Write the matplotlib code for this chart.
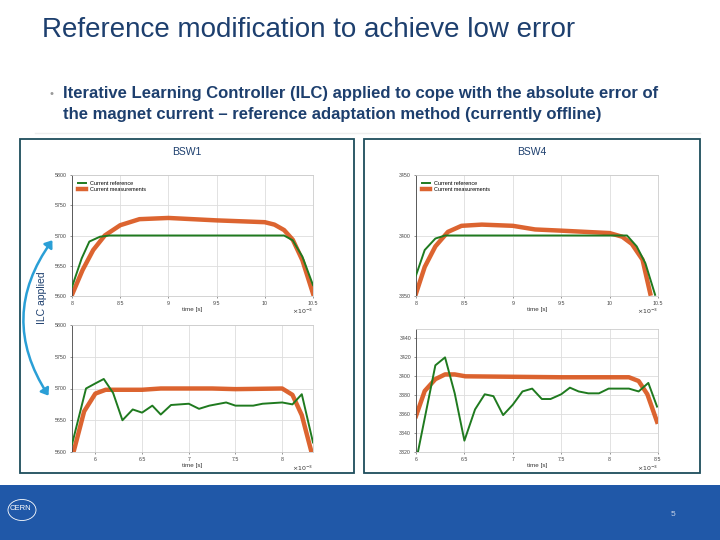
import matplotlib.pyplot as plt
from matplotlib.patches import Rectangle, FancyArrowPatch, Circle

# --- data (time in 1e-3 s, current in A) ---
bsw1_top_ref_t = [8.0, 8.1, 8.18, 8.29, 8.39, 9.0, 9.5, 10.0, 10.2, 10.29, 10.39, 10.5]
bsw1_top_ref_i = [5615, 5662, 5690, 5698, 5700, 5700, 5700, 5700, 5700, 5692, 5665, 5618]
bsw1_top_meas_t = [8.0, 8.11, 8.22, 8.34, 8.5, 8.7, 9.0, 9.5, 10.0, 10.1, 10.2, 10.29, 10.39, 10.5]
bsw1_top_meas_i = [5602, 5643, 5676, 5700, 5717, 5727, 5729, 5725, 5722, 5718, 5709, 5693, 5659, 5604]

bsw1_bot_ref_t = [5.75, 5.9, 6.0, 6.09, 6.19, 6.29, 6.4, 6.5, 6.61, 6.7, 6.81, 7.0, 7.11, 7.22,
                  7.4, 7.5, 7.69, 7.79, 8.0, 8.11, 8.21, 8.33]
bsw1_bot_ref_i = [5612, 5700, 5708, 5715, 5693, 5650, 5667, 5662, 5673, 5659, 5674, 5676, 5668, 5673,
                  5678, 5673, 5673, 5676, 5678, 5675, 5691, 5615]
bsw1_bot_meas_t = [5.77, 5.88, 6.0, 6.11, 6.25, 6.5, 6.7, 7.0, 7.25, 7.5, 8.0, 8.11, 8.21, 8.31]
bsw1_bot_meas_i = [5602, 5664, 5692, 5698, 5698, 5698, 5700, 5700, 5700, 5699, 5700, 5690, 5658, 5602]

bsw4_top_ref_t = [8.0, 8.09, 8.2, 8.3, 9.0, 9.5, 10.0, 10.18, 10.28, 10.37, 10.47]
bsw4_top_ref_i = [3367, 3388, 3397.5, 3400, 3400, 3400, 3400, 3400, 3391, 3377, 3351]
bsw4_top_meas_t = [8.0, 8.09, 8.2, 8.33, 8.47, 8.68, 9.0, 9.23, 9.5, 10.0, 10.13, 10.23, 10.34, 10.42]
bsw4_top_meas_i = [3352, 3374, 3391, 3403, 3408, 3409, 3408, 3405, 3404, 3402, 3399, 3393, 3380, 3352]

bsw4_bot_ref_t = [6.02, 6.2, 6.3, 6.4, 6.5, 6.61, 6.71, 6.8, 6.9, 7.0, 7.1, 7.2, 7.3, 7.39, 7.5,
                  7.59, 7.68, 7.78, 7.89, 7.99, 8.2, 8.3, 8.4, 8.49]
bsw4_bot_ref_i = [3320, 3411.6, 3420, 3382, 3332, 3365, 3381, 3379, 3359, 3370, 3384, 3387, 3376, 3376, 3381,
                  3388, 3384, 3382, 3382, 3387, 3387, 3384, 3393, 3368]
bsw4_bot_meas_t = [6.0, 6.09, 6.2, 6.3, 6.4, 6.51, 7.0, 7.5, 8.2, 8.3, 8.39, 8.49]
bsw4_bot_meas_i = [3358, 3384.5, 3397, 3402, 3402, 3400, 3399.5, 3399, 3399, 3395, 3381, 3352]

GREEN = "#1f7a1f"
ORANGE = "#d95319"
NAVY = "#1d3f6e"
W, H = 720, 540


def rect(x0, y0, x1, y1):
    # pixel box (top-left origin) -> figure fraction
    return [x0 / W, 1 - y1 / H, (x1 - x0) / W, (y1 - y0) / H]


fig = plt.figure(figsize=(7.2, 5.4), dpi=100)
plt.rcParams["font.family"] = ["Liberation Sans", "DejaVu Sans"]

# title + bullet
fig.text(42 / W, 1 - 30 / H, "Reference modification to achieve low error",
         fontsize=20, color=NAVY, va="center", ha="left")
fig.text(50 / W, 1 - 94 / H, "\u2022", fontsize=8, color="#999999", va="center")
fig.text(63 / W, 1 - 93 / H, "Iterative Learning Controller (ILC) applied to cope with the absolute error of",
         fontsize=12, color=NAVY, weight="bold", va="center", ha="left")
fig.text(63 / W, 1 - 114 / H, "the magnet current \u2013 reference adaptation method (currently offline)",
         fontsize=12, color=NAVY, weight="bold", va="center", ha="left")
fig.add_artist(plt.Line2D([35 / W, 700 / W], [1 - 133 / H] * 2, color="#eeeeee", lw=1))

# panel frames
for x0, x1, name in [(20, 354, "BSW1"), (364, 700, "BSW4")]:
    fig.add_artist(Rectangle((x0 / W, 1 - 473 / H), (x1 - x0) / W, (473 - 139) / H,
                             transform=fig.transFigure, fill=False, ec="#1e4d5c", lw=1.3))
    fig.text((x0 + x1) / 2 / W, 1 - 152 / H, name, fontsize=7.5, color=NAVY,
             ha="center", va="center")


def draw(box, ref_t, ref_i, meas_t, meas_i, xlim, ylim, yticks, xticks, legend=False):
    ax = fig.add_axes(rect(*box))
    ax.plot(ref_t, ref_i, color=GREEN, lw=1.4, label="Current reference", zorder=3)
    ax.plot(meas_t, meas_i, color=ORANGE, lw=3.2, alpha=0.9, label="Current measurements", zorder=2)
    ax.set_xlim(*xlim)
    ax.set_ylim(*ylim)
    ax.set_xticks(xticks)
    ax.set_xticklabels([f"{v:g}" for v in xticks])
    ax.set_yticks(yticks)
    ax.grid(True, color="#dddddd", lw=0.6)
    ax.tick_params(labelsize=3.8, length=1.5, width=0.4, colors="#444444", pad=2)
    for side in ax.spines:
        ax.spines[side].set_color("#cccccc")
        ax.spines[side].set_linewidth(0.6)
    ax.spines["left"].set_color("#444444")
    ax.set_xlabel("time [s]", fontsize=4.5, labelpad=1, color="#333333")
    ax.text(1.0, -0.13, r"$\times10^{-3}$", transform=ax.transAxes, fontsize=4.5,
            ha="right", va="center", color="#333333")
    if legend:
        ax.legend(loc="upper left", fontsize=4, frameon=False, handlelength=1.5,
                  borderaxespad=0.6, labelspacing=0.3)
    return ax


draw((72, 175, 313, 296), bsw1_top_ref_t, bsw1_top_ref_i, bsw1_top_meas_t, bsw1_top_meas_i,
     (8, 10.5), (5600, 5800), [5600, 5650, 5700, 5750, 5800], [8, 8.5, 9, 9.5, 10, 10.5], True)
draw((72, 325, 313, 452), bsw1_bot_ref_t, bsw1_bot_ref_i, bsw1_bot_meas_t, bsw1_bot_meas_i,
     (5.75, 8.33), (5600, 5800), [5600, 5650, 5700, 5750, 5800], [6, 6.5, 7, 7.5, 8])
draw((416, 175, 658, 296), bsw4_top_ref_t, bsw4_top_ref_i, bsw4_top_meas_t, bsw4_top_meas_i,
     (8, 10.5), (3350, 3450), [3350, 3400, 3450], [8, 8.5, 9, 9.5, 10, 10.5], True)
draw((416, 329, 658, 452), bsw4_bot_ref_t, bsw4_bot_ref_i, bsw4_bot_meas_t, bsw4_bot_meas_i,
     (6, 8.5), (3320, 3450), [3320, 3340, 3360, 3380, 3400, 3420, 3440], [6, 6.5, 7, 7.5, 8, 8.5])

# ILC arrow + label
arrow = FancyArrowPatch((50 / W, 1 - 398 / H), (54 / W, 1 - 238 / H), transform=fig.transFigure,
                        connectionstyle="arc3,rad=-0.35", arrowstyle="<|-|>,head_length=4,head_width=3",
                        color="#2a9fd6", lw=1.8)
fig.add_artist(arrow)
fig.text(42 / W, 1 - 298 / H, "ILC applied", rotation=90, fontsize=7.5, color=NAVY,
         ha="center", va="center")

# footer band with a rough CERN logo
fig.add_artist(Rectangle((0, 0), 1, 55 / H, transform=fig.transFigure, color="#2058a8", lw=0))
fig.add_artist(Circle((22 / W, 1 - 510 / H), 14 / W, transform=fig.transFigure,
                      fill=False, ec="white", lw=0.6))
fig.text(20 / W, 1 - 509 / H, "CERN", fontsize=5.5, color="white", ha="center", va="center")
fig.text(673 / W, 1 - 515 / H, "5", fontsize=6, color="#c8d4e8", ha="center", va="center")

fig.savefig("out.png", dpi=100)
